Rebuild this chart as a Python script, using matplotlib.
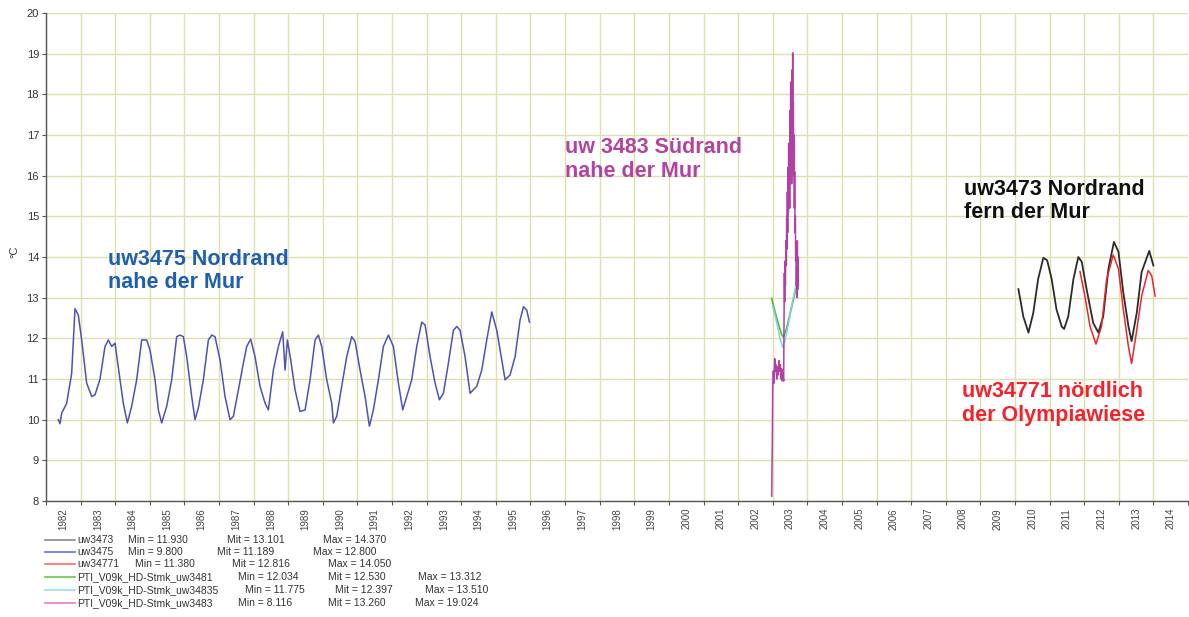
import matplotlib
matplotlib.use("Agg")
import matplotlib.pyplot as plt
from matplotlib.lines import Line2D
import numpy as np

plt.rcParams['font.family'] = ['Liberation Sans', 'DejaVu Sans']

# ===============================
# DATA
# ===============================
t_3475 = [1982.356, 1982.405, 1982.453, 1982.597, 1982.742, 1982.838, 1982.934, 1983.031,
          1983.175, 1983.320, 1983.416, 1983.561, 1983.705, 1983.802, 1983.898, 1983.994,
          1984.139, 1984.235, 1984.351, 1984.476, 1984.620, 1984.765, 1984.909, 1985.006,
          1985.150, 1985.247, 1985.343, 1985.488, 1985.632, 1985.776, 1985.873, 1985.969,
          1986.066, 1986.210, 1986.306, 1986.403, 1986.547, 1986.692, 1986.788, 1986.884,
          1987.029, 1987.173, 1987.318, 1987.414, 1987.559, 1987.703, 1987.800, 1987.915,
          1988.040, 1988.185, 1988.329, 1988.426, 1988.570, 1988.715, 1988.840, 1988.908,
          1988.975, 1989.071, 1989.197, 1989.341, 1989.486, 1989.630, 1989.775, 1989.871,
          1989.967, 1990.112, 1990.256, 1990.304, 1990.401, 1990.545, 1990.690, 1990.834,
          1990.931, 1991.075, 1991.220, 1991.345, 1991.460, 1991.605, 1991.749, 1991.894,
          1992.038, 1992.183, 1992.308, 1992.424, 1992.568, 1992.713, 1992.857, 1992.954,
          1993.098, 1993.243, 1993.368, 1993.484, 1993.628, 1993.773, 1993.869, 1993.965,
          1994.110, 1994.254, 1994.447, 1994.592, 1994.736, 1994.881, 1995.025, 1995.170,
          1995.266, 1995.410, 1995.555, 1995.699, 1995.798, 1995.894, 1995.969]
v_3475 = [10.00, 9.90, 10.16, 10.40, 11.14, 12.73, 12.57, 11.96,
          10.90, 10.57, 10.61, 11.00, 11.80, 11.96, 11.80, 11.88,
          10.98, 10.40, 9.92, 10.33, 10.98, 11.96, 11.96, 11.71,
          10.98, 10.24, 9.92, 10.33, 10.98, 12.04, 12.08, 12.04,
          11.55, 10.57, 10.00, 10.29, 10.98, 11.96, 12.08, 12.04,
          11.47, 10.57, 10.00, 10.08, 10.73, 11.39, 11.80, 11.98,
          11.55, 10.82, 10.41, 10.24, 11.22, 11.80, 12.16, 11.22,
          11.96, 11.47, 10.73, 10.20, 10.24, 10.98, 11.96, 12.08,
          11.80, 10.98, 10.41, 9.92, 10.08, 10.82, 11.55, 12.04,
          11.92, 11.22, 10.57, 9.84, 10.24, 10.98, 11.80, 12.08,
          11.80, 10.90, 10.24, 10.57, 10.98, 11.80, 12.40, 12.33,
          11.55, 10.90, 10.49, 10.65, 11.39, 12.20, 12.29, 12.20,
          11.55, 10.65, 10.82, 11.22, 11.96, 12.65, 12.20, 11.47,
          10.98, 11.10, 11.55, 12.45, 12.78, 12.69, 12.40]

t_3483 = [2002.970, 2002.989, 2002.999, 2003.018, 2003.037, 2003.057, 2003.076, 2003.095,
          2003.114, 2003.134, 2003.163, 2003.182, 2003.201, 2003.220, 2003.240, 2003.259,
          2003.278, 2003.297, 2003.317, 2003.326, 2003.336, 2003.346, 2003.355, 2003.365,
          2003.384, 2003.394, 2003.403, 2003.413, 2003.423, 2003.432, 2003.442, 2003.452,
          2003.461, 2003.471, 2003.480, 2003.490, 2003.500, 2003.509, 2003.519, 2003.528,
          2003.538, 2003.548, 2003.557, 2003.567, 2003.577, 2003.586, 2003.596, 2003.605,
          2003.615, 2003.625, 2003.634, 2003.644, 2003.654, 2003.663, 2003.673, 2003.682,
          2003.692, 2003.702, 2003.711, 2003.721, 2003.730, 2003.740]
v_3483 = [8.12, 9.50, 10.80, 11.20, 10.90, 11.50, 11.20, 11.35,
          11.00, 11.30, 11.10, 11.45, 11.20, 11.35, 11.00, 11.25,
          10.95, 11.10, 10.95, 12.40, 13.60, 12.90, 13.90, 13.30,
          14.40, 13.80, 15.00, 14.20, 15.60, 14.60, 16.20, 15.10,
          16.80, 15.40, 16.30, 15.20, 17.60, 16.00, 18.30, 16.50,
          17.40, 15.80, 18.60, 16.90, 19.02, 17.20, 17.80, 16.00,
          17.00, 15.20, 16.10, 14.60, 15.00, 13.90, 14.20, 13.30,
          13.80, 13.00, 14.40, 13.20, 14.00, 13.30]

t_3481 = [2002.970, 2003.067, 2003.163, 2003.259, 2003.307, 2003.403, 2003.500, 2003.596, 2003.692]
v_3481 = [12.98, 12.65, 12.35, 12.10, 12.03, 12.25, 12.60, 12.95, 13.31]

t_34835 = [2002.999, 2003.114, 2003.210, 2003.288, 2003.355, 2003.452, 2003.548, 2003.644, 2003.711]
v_34835 = [12.80, 12.40, 12.00, 11.78, 11.95, 12.35, 12.80, 13.20, 13.50]

t_3473 = [2010.10, 2010.24, 2010.39, 2010.53, 2010.67, 2010.82, 2010.93, 2011.06,
          2011.20, 2011.35, 2011.42, 2011.54, 2011.69, 2011.83, 2011.93, 2012.07,
          2012.26, 2012.41, 2012.55, 2012.70, 2012.86, 2012.99, 2013.13, 2013.28,
          2013.37, 2013.52, 2013.66, 2013.88, 2014.00]
v_3473 = [13.21, 12.54, 12.14, 12.63, 13.46, 13.98, 13.92, 13.46,
          12.71, 12.29, 12.23, 12.54, 13.46, 14.00, 13.88, 13.21,
          12.38, 12.14, 12.54, 13.71, 14.37, 14.13, 13.13, 12.29,
          11.93, 12.63, 13.63, 14.15, 13.79]

t_34771 = [2011.88, 2012.02, 2012.17, 2012.34, 2012.50, 2012.65, 2012.84, 2012.99,
           2013.13, 2013.28, 2013.37, 2013.52, 2013.66, 2013.85, 2013.95, 2014.05]
v_34771 = [13.64, 13.04, 12.29, 11.86, 12.29, 13.46, 14.05, 13.71,
           12.71, 11.79, 11.38, 12.21, 13.04, 13.67, 13.54, 13.04]

years = list(range(1982, 2015))

legend_names = ["uw3473", "uw3475", "uw34771", "PTI_V09k_HD-Stmk_uw3481",
                "PTI_V09k_HD-Stmk_uw34835", "PTI_V09k_HD-Stmk_uw3483"]
legend_min = ["11.930", "9.800", "11.380", "12.034", "11.775", "8.116"]
legend_mit = ["13.101", "11.189", "12.816", "12.530", "12.397", "13.260"]
legend_max = ["14.370", "12.800", "14.050", "13.312", "13.510", "19.024"]

# ===============================
# FIGURE
# ===============================
W, H = 1189, 617
fig = plt.figure(figsize=(W / 100, H / 100), dpi=100)
ax = fig.add_axes([46 / W, 1 - 501 / H, 1142 / W, 488 / H])


def fx(x):
    return x / W


def fy(y):
    return 1 - y / H


line_colors = ["#2b2b2b", "#4d52b5", "#e8262b", "#5cb83c", "#7fd0e6", "#b23fa3"]
legend_colors = ["#8a8a8a", "#6a6fd0", "#ff6a6a", "#6cc44c", "#9bdcf0", "#e07ad0"]

ax.plot(t_3475, v_3475, color=line_colors[1], lw=1.1)
ax.plot(t_3481, v_3481, color=line_colors[3], lw=1.3)
ax.plot(t_34835, v_34835, color=line_colors[4], lw=1.1)
ax.plot(t_3483, v_3483, color=line_colors[5], lw=1.1)
ax.plot(t_3473, v_3473, color=line_colors[0], lw=1.3)
ax.plot(t_34771, v_34771, color=line_colors[2], lw=1.1)

ax.set_xlim(1982, 2015)
ax.set_ylim(8, 20)

ax.set_xticks(range(1982, 2016))
ax.set_xticklabels([])
ax.set_xticks([y + 0.5 for y in years], minor=True)
ax.set_xticklabels([str(y) for y in years], minor=True, rotation=90,
                   fontsize=7, color="#444444")
ax.tick_params(axis="x", which="major", length=3, direction="out", color="#555555")
ax.tick_params(axis="x", which="minor", length=0, pad=5)

ax.set_yticks(range(8, 21))
ax.tick_params(axis="y", labelsize=8, labelcolor="#333333", length=3,
               color="#555555", pad=2)

ax.grid(True, which="major", color="#e0e0ac", lw=1.0)
ax.set_axisbelow(True)
for side in ["top", "right"]:
    ax.spines[side].set_visible(False)
for side in ["left", "bottom"]:
    ax.spines[side].set_color("#555555")
    ax.spines[side].set_linewidth(1.0)

fig.text(fx(14), fy(252), "°C", rotation=90, fontsize=8, color="#333333",
         ha="center", va="center")

# ===============================
# ANNOTATIONS
# ===============================
ann = dict(fontsize=15.5, fontweight="bold", ha="left", va="baseline")
fig.text(fx(108), fy(265), "uw3475 Nordrand", color="#1f5fae", **ann)
fig.text(fx(108), fy(288), "nahe der Mur", color="#1f5fae", **ann)
fig.text(fx(565), fy(153), "uw 3483 Südrand", color="#b2439f", **ann)
fig.text(fx(565), fy(177), "nahe der Mur", color="#b2439f", **ann)
fig.text(fx(964), fy(195), "uw3473 Nordrand", color="#111111", **ann)
fig.text(fx(964), fy(218), "fern der Mur", color="#111111", **ann)
fig.text(fx(962), fy(397), "uw34771 nördlich", color="#f5222d", **ann)
fig.text(fx(962), fy(421), "der Olympiawiese", color="#f5222d", **ann)

# ===============================
# LEGEND (stats table)
# ===============================
row_y = [540, 552, 564, 577, 590, 603]
col_min = [128, 128, 135, 238, 245, 238]
col_mit = [227, 217, 232, 328, 335, 328]
col_max = [323, 313, 328, 418, 425, 415]
for i, name in enumerate(legend_names):
    y = fy(row_y[i])
    fig.add_artist(Line2D([fx(45), fx(75)], [y, y], color=legend_colors[i], lw=1.2))
    kw = dict(fontsize=7.5, color="#333333", va="center", ha="left")
    fig.text(fx(77), y, name, **kw)
    fig.text(fx(col_min[i]), y, "Min = " + legend_min[i], **kw)
    fig.text(fx(col_mit[i]), y, "Mit = " + legend_mit[i], **kw)
    fig.text(fx(col_max[i]), y, "Max = " + legend_max[i], **kw)

fig.savefig("out.png", dpi=100)
